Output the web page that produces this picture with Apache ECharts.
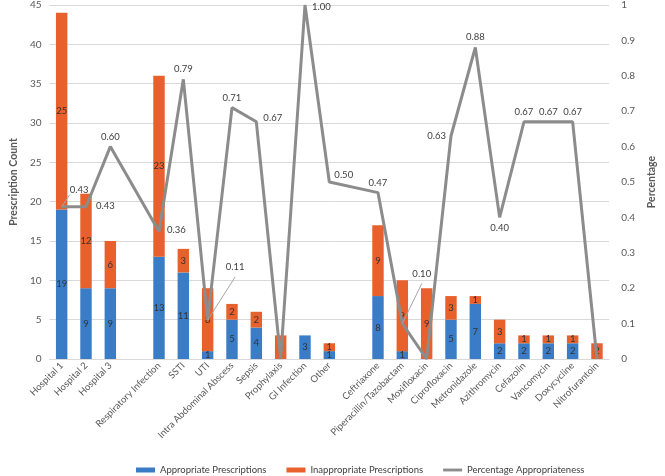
<!DOCTYPE html>
<html>
<head>
<meta charset="utf-8">
<script src="https://cdn.jsdelivr.net/npm/echarts@6/dist/echarts.min.js"></script>
<style>html,body{margin:0;padding:0;background:#fff}#c{width:665px;height:476px}</style>
</head>
<body>
<div id="c"></div>
<script>
const categories = ['Hospital 1','Hospital 2','Hospital 3','','Respiratory Infection','SSTI','UTI','Intra Abdominal Abscess','Sepsis','Prophylaxis','GI Infection','Other','','Ceftriaxone','Piperacillin/Tazobactam','Moxifloxacin','Ciprofloxacin','Metronidazole','Azithromycin','Cefazolin','Vancomycin','Doxycycline','Nitrofurantoin'];
const appropriate = [19,9,9,null,13,11,1,5,4,0,3,1,null,8,1,0,5,7,2,2,2,2,0];
const inappropriate = [25,12,6,null,23,3,8,2,2,3,0,1,null,9,9,9,3,1,3,1,1,1,2];
const percentage = [0.43,0.43,0.60,null,0.36,0.79,0.11,0.71,0.67,0,1.00,0.50,null,0.47,0.10,0,0.63,0.88,0.40,0.67,0.67,0.67,0];
const leftTicks = {min:0,max:45,interval:5};
const rightTicks = {min:0,max:1,interval:0.1};

// label placement for the percentage line (style only)
const linePos = ['right','right','top',null,'right','top','right','top','right','top','right','right',null,'top','right','top','left','top','bottom','top','top','top','top'];
const lineOffset = {0:[3,-17],1:[5,-1],4:[3,-2],6:[13,-53],8:[2,-4],10:[2,2],11:[0,-7],14:[5,-50]};
const leader = {0:true,6:true,14:true};

const chart = echarts.init(document.getElementById('c'));
const lineData = percentage.map((v,i)=>{
  if (v===null) return null;
  return {value:v,
    label:{position:linePos[i]||'top',offset:lineOffset[i]||[0,0]},
    labelLine:{show:!!leader[i],lineStyle:{color:'#A6A6A6',width:1}}};
});
chart.setOption({
  animation:false,
  textStyle:{fontFamily:'Lato, "Open Sans", sans-serif'},
  grid:{left:37,right:42,top:4,bottom:117},
  legend:{
    top:460,left:131,itemGap:20,itemWidth:19,itemHeight:5,
    textStyle:{fontSize:9.5,color:'#404040'},
    data:[{name:'Appropriate Prescriptions',icon:'rect'},{name:'Inappropriate Prescriptions',icon:'rect'},{name:'Percentage Appropriateness',icon:'path://M0 0H20V3H0Z'}]
  },
  xAxis:{
    type:'category',data:categories,
    axisLine:{lineStyle:{color:'#D9D9D9'}},
    axisTick:{show:false},
    axisLabel:{interval:0,rotate:45,fontSize:9.5,color:'#595959',margin:5}
  },
  yAxis:[
    {type:'value',min:leftTicks.min,max:leftTicks.max,interval:leftTicks.interval,
     name:'Prescription Count',nameLocation:'middle',nameGap:26,
     nameTextStyle:{fontSize:10.5,fontWeight:'bold',color:'#595959'},
     axisLabel:{fontSize:10,color:'#595959',margin:8},
     splitLine:{lineStyle:{color:'#D9D9D9'}},axisLine:{show:false},axisTick:{show:false}},
    {type:'value',min:rightTicks.min,max:rightTicks.max,interval:rightTicks.interval,
     name:'Percentage',nameLocation:'middle',nameGap:32,
     nameTextStyle:{fontSize:10.5,fontWeight:'bold',color:'#595959'},
     axisLabel:{fontSize:10,color:'#595959',margin:12,formatter:v=>String(Math.round(v*10)/10)},
     splitLine:{show:false},axisLine:{show:false},axisTick:{show:false}}
  ],
  series:[
    {name:'Appropriate Prescriptions',type:'bar',stack:'s',data:appropriate,barWidth:'47%',
     itemStyle:{color:'#3A7DC6'},
     label:{show:true,position:'inside',fontSize:9.5,color:'#333',formatter:p=>p.value?String(p.value):''}},
    {name:'Inappropriate Prescriptions',type:'bar',stack:'s',data:inappropriate,barWidth:'47%',
     itemStyle:{color:'#E8612C'},
     label:{show:true,position:'inside',fontSize:9.5,color:'#333',formatter:p=>p.value?String(p.value):''}},
    {name:'Percentage Appropriateness',type:'line',yAxisIndex:1,data:lineData,connectNulls:true,
     symbol:'circle',symbolSize:0.1,showSymbol:true,
     lineStyle:{color:'#8C8C8C',width:3},itemStyle:{color:'#8C8C8C'},
     label:{show:true,fontSize:9.5,color:'#404040',formatter:p=>p.value?p.value.toFixed(2):''}}
  ]
});
</script>
</body>
</html>
